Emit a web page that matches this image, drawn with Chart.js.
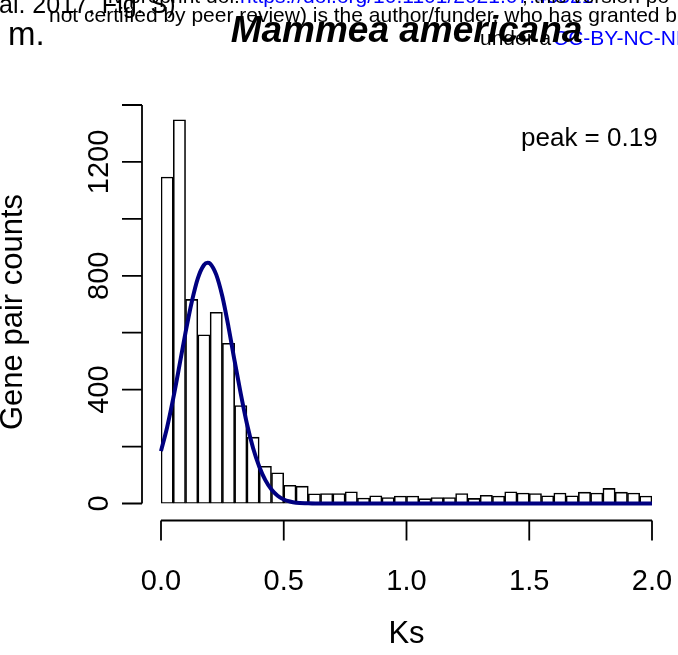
<!DOCTYPE html>
<html><head><meta charset="utf-8">
<script src="https://cdn.jsdelivr.net/npm/chart.js@4.4.1/dist/chart.umd.min.js"></script>
<style>html,body{margin:0;padding:0;background:#fff;overflow:hidden}#wrap{position:relative;width:678px;height:655px}</style>
</head><body><div id="wrap"><canvas id="c" width="678" height="655"></canvas></div>
<script>
// Histogram of Ks (bin width 0.05), bin centres
const binCenters = [0.025,0.075,0.125,0.175,0.225,0.275,0.325,0.375,0.425,0.475,
  0.525,0.575,0.625,0.675,0.725,0.775,0.825,0.875,0.925,0.975,
  1.025,1.075,1.125,1.175,1.225,1.275,1.325,1.375,1.425,1.475,
  1.525,1.575,1.625,1.675,1.725,1.775,1.825,1.875,1.925,1.975];
const geneCounts = [1147,1348,717,593,672,563,344,233,131,108,
  64,61,34,35,35,41,19,27,21,26,
  26,17,21,21,35,18,29,26,41,37,
  35,27,37,27,40,37,53,40,37,26];
// Fitted curve
const curveKs = [0,0.025,0.05,0.075,0.1,0.125,0.15,0.175,0.19,0.2,0.225,0.25,0.275,0.3,0.325,0.35,0.375,0.4,0.425,0.45,0.475,0.5,0.525,0.55,0.6,0.65,0.7,1.0,1.5,2.0];
const curveCounts = [184,268,370,484,601,707,791,838,846,843,804,727,620,500,385,280,195,130,82,49,27,14,7,3,1,0,0,0,0,0];
// Axes
const xTicks = [0,0.5,1,1.5,2];
const xTickLabels = ["0.0","0.5","1.0","1.5","2.0"];
const yTicks = [0,200,400,600,800,1000,1200,1400];
const yLabelTicks = [0,400,800,1200];
const yTickLabels = ["0","400","800","1200"];
const titleText = "Mammea americana";
const xTitle = "Ks";
const yTitle = "Gene pair counts";
const peakText = "peak = 0.19";

const FONT = '"Liberation Sans", Arial, Helvetica, sans-serif';

const decor = {
  id: 'decor',
  afterDraw(chart) {
    const ctx = chart.ctx;
    const xs = chart.scales.x, ys = chart.scales.y;
    ctx.save();
    ctx.strokeStyle = '#000';
    ctx.fillStyle = '#000';
    ctx.lineWidth = 1.8;
    ctx.lineCap = 'butt';
    // x axis
    const axY = 520.5;
    ctx.beginPath();
    ctx.moveTo(xs.getPixelForValue(xTicks[0]), axY);
    ctx.lineTo(xs.getPixelForValue(xTicks[xTicks.length-1]), axY);
    xTicks.forEach(v => { const p = xs.getPixelForValue(v); ctx.moveTo(p, axY); ctx.lineTo(p, axY + 20); });
    ctx.stroke();
    // y axis
    const axX = 142;
    ctx.beginPath();
    ctx.moveTo(axX, ys.getPixelForValue(yTicks[0]));
    ctx.lineTo(axX, ys.getPixelForValue(yTicks[yTicks.length-1]));
    yTicks.forEach(v => { const p = ys.getPixelForValue(v); ctx.moveTo(axX, p); ctx.lineTo(axX - 20, p); });
    ctx.stroke();
    // x tick labels
    ctx.font = '29px ' + FONT;
    ctx.textAlign = 'center';
    ctx.textBaseline = 'alphabetic';
    xTicks.forEach((v, i) => ctx.fillText(xTickLabels[i], xs.getPixelForValue(v), 590));
    // y tick labels (rotated)
    yLabelTicks.forEach((v, i) => {
      ctx.save();
      ctx.translate(108, ys.getPixelForValue(v));
      ctx.rotate(-Math.PI / 2);
      ctx.fillText(yTickLabels[i], 0, 0);
      ctx.restore();
    });
    // axis titles
    ctx.font = '31px ' + FONT;
    ctx.fillText(xTitle, 406.5, 643);
    ctx.save();
    ctx.translate(22, 312);
    ctx.rotate(-Math.PI / 2);
    ctx.fillText(yTitle, 0, 0);
    ctx.restore();
    // peak label
    ctx.font = '26px ' + FONT;
    ctx.textAlign = 'left';
    ctx.fillText(peakText, 521, 146);
    // header fragments from the source page
    ctx.font = '21px ' + FONT;
    ctx.fillStyle = '#000';
    ctx.fillText('iv preprint doi:', 108, 3);
    ctx.fillStyle = '#0000ff';
    ctx.fillText('https://doi.org/10.1101/2021.07.45321', 240, 3);
    ctx.fillStyle = '#000';
    ctx.fillText('; this version po', 522, 3);
    ctx.font = '25px ' + FONT;
    ctx.fillText('al. 2017, Fig. S)', -1, 13);
    ctx.font = '21px ' + FONT;
    ctx.fillText('not certified by peer review) is the author/funder, who has granted b', 49, 22);
    ctx.font = '33px ' + FONT;
    ctx.fillText('m.', 8, 45);
    ctx.font = '21px ' + FONT;
    ctx.fillText('under a', 480, 45);
    ctx.fillStyle = '#0000ff';
    ctx.fillText('CC-BY-NC-ND', 553, 45);
    // title
    ctx.fillStyle = '#000';
    ctx.font = 'italic bold 37px ' + FONT;
    ctx.textAlign = 'center';
    ctx.fillText(titleText, 406.5, 42);
    ctx.restore();
  }
};

new Chart(document.getElementById('c'), {
  data: {
    datasets: [
      {
        type: 'line',
        data: curveKs.map((k, i) => ({x: k, y: curveCounts[i]})),
        borderColor: '#000080',
        borderWidth: 4,
        pointRadius: 0,
        cubicInterpolationMode: 'monotone',
        fill: false,
        order: 0,
        clip: false
      },
      {
        type: 'bar',
        data: binCenters.map((k, i) => ({x: k, y: geneCounts[i]})),
        backgroundColor: '#ffffff',
        borderColor: '#000000',
        borderWidth: 1.6,
        borderSkipped: false,
        barPercentage: 1,
        categoryPercentage: 1,
        order: 1
      }
    ]
  },
  options: {
    responsive: false,
    animation: false,
    events: [],
    layout: { padding: { left: 161, right: 26, top: 105, bottom: 151.5 } },
    plugins: { legend: { display: false }, tooltip: { enabled: false }, title: { display: false } },
    scales: {
      x: { type: 'linear', min: 0, max: 2, offset: false, display: false },
      y: { type: 'linear', min: 0, max: 1400, display: false }
    }
  },
  plugins: [decor]
});
</script>
</body></html>
